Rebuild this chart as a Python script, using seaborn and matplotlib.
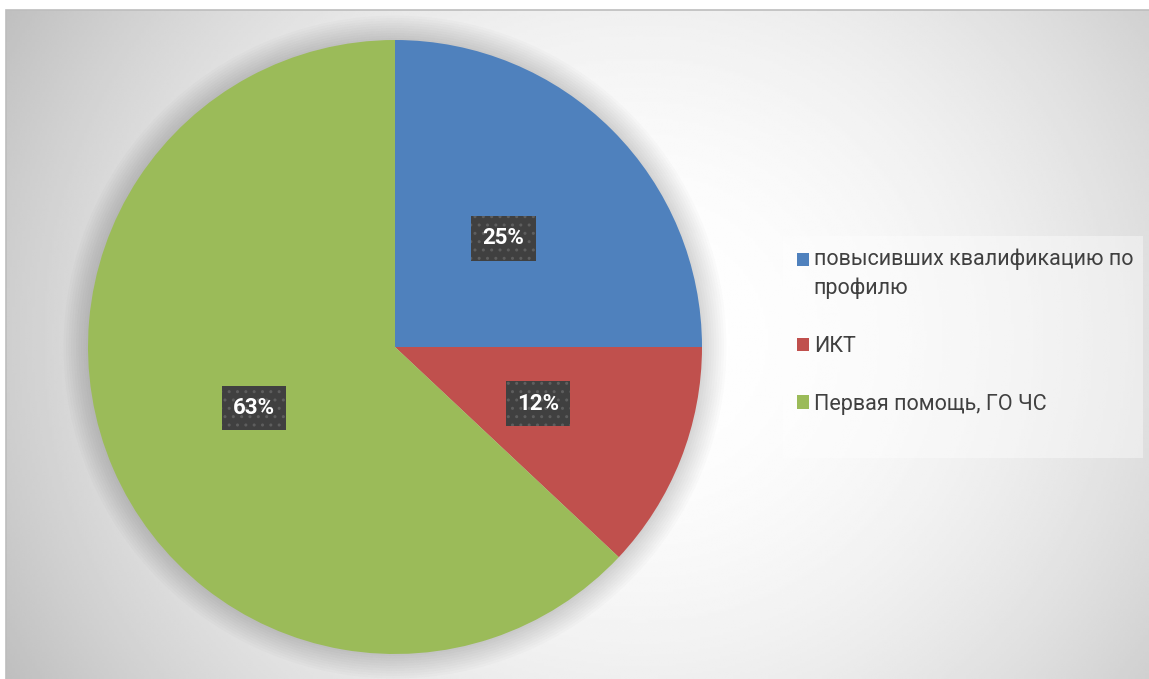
import matplotlib.pyplot as plt
import matplotlib.patches as mpatches
from matplotlib.legend_handler import HandlerPatch
import numpy as np
import seaborn as sns

# chart data
categories = ["повысивших квалификацию по\nпрофилю", "ИКТ", "Первая помощь, ГО ЧС"]
shares = [25, 12, 63]
colors = ["#4F81BD", "#C0504D", "#9BBB59"]

sns.set_theme(style="white")
plt.rcParams["font.family"] = ["Roboto", "DejaVu Sans"]

W, H = 1149, 679
fig = plt.figure(figsize=(W / 100, H / 100), dpi=100)
fig.patch.set_facecolor("white")
ax = fig.add_axes([0, 0, 1, 1])

# chart area with a soft radial gradient (white centre, grey edges)
x0, x1, y0, y1 = 6, W, 0, H - 10
xx, yy = np.meshgrid(np.linspace(x0, x1, 460), np.linspace(y0, y1, 280))
dist = np.sqrt(((xx - 640) / 600) ** 2 + ((yy - 339) / 560) ** 2)
shade = 1 - 0.17 * dist ** 2
ax.imshow(shade, cmap="gray", vmin=0, vmax=1, extent=(x0, x1, y0, y1),
          origin="lower", aspect="auto", interpolation="bilinear", zorder=0)
ax.add_patch(mpatches.Rectangle((x0, -5), W - x0 + 5, y1 + 5, fill=False,
                                edgecolor="#bdbdbd", lw=1.2, zorder=1))

# soft shadow around the pie
pie_center = (395, 332)
pie_radius = 307
for k in range(10):
    ax.add_patch(mpatches.Circle(pie_center, pie_radius + 2 + 2.5 * k,
                                 color="black", alpha=0.014, lw=0, zorder=1))

wedges, texts, autotexts = ax.pie(
    shares,
    colors=colors,
    startangle=90,
    counterclock=False,
    center=pie_center,
    radius=pie_radius,
    autopct="%1.0f%%",
    pctdistance=0.5,
    wedgeprops=dict(linewidth=0, zorder=2),
    textprops=dict(color="white", fontsize=16, fontweight="bold"),
)
for t in autotexts:
    t.set_zorder(5)
    t.set_bbox(dict(boxstyle="square,pad=0.5", facecolor="#404040",
                    edgecolor="#5e5e5e", linewidth=0, hatch=".."))


def _first_line_square(legend, orig_handle, xdescent, ydescent, width, height, fontsize):
    # put the marker next to the first line of a two-line label
    return mpatches.Rectangle((-xdescent, -ydescent + 11), width, height)


# legend panel
ax.add_patch(mpatches.Rectangle((783, H - 458), 360, 222, facecolor="white",
                                alpha=0.4, lw=0, zorder=3))
leg = ax.legend(
    wedges, categories,
    loc="upper left",
    bbox_to_anchor=(797 / W, (H - 249) / H),
    bbox_transform=fig.transFigure,
    handler_map={wedges[0]: HandlerPatch(patch_func=_first_line_square)},
    fontsize=15.5,
    labelcolor="#404040",
    handlelength=0.58, handleheight=0.58, handletextpad=0.2,
    labelspacing=1.7, borderpad=0, borderaxespad=0,
    frameon=False,
)
for t in leg.get_texts():
    t.set_linespacing(1.45)

ax.set_xlim(0, W)
ax.set_ylim(0, H)
ax.set_aspect("auto")
ax.axis("off")

fig.savefig("out.png", dpi=100)
